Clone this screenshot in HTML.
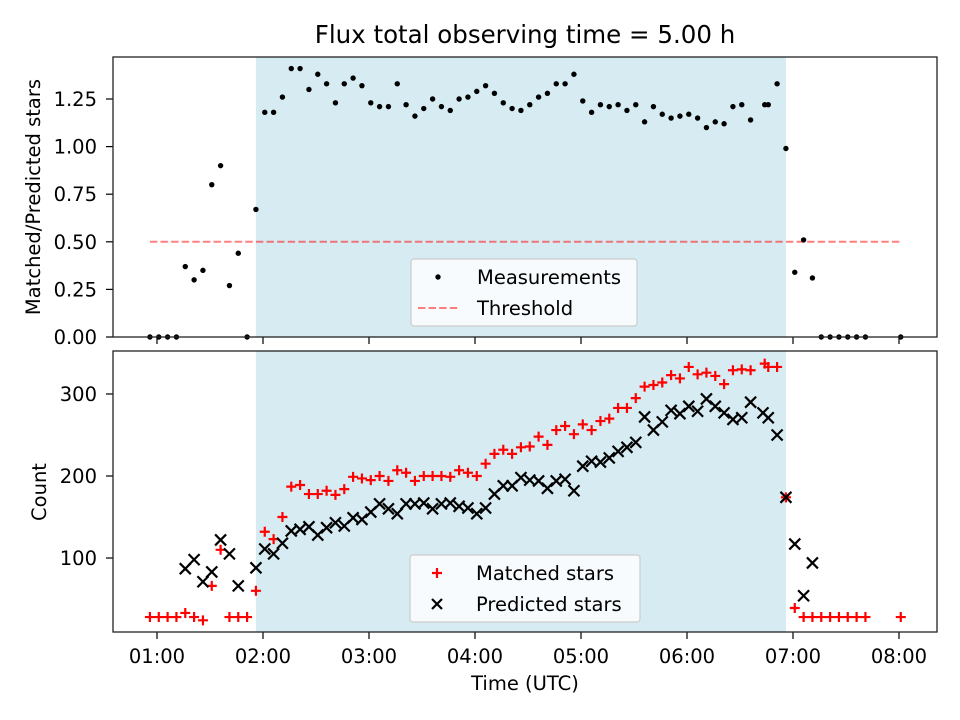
<!DOCTYPE html>
<html><head><meta charset="utf-8">
<style>
body{margin:0;background:#fff;}
svg{display:block;font-family:"DejaVu Sans","Liberation Sans",sans-serif;}
</style></head>
<body>
<svg id="chart" width="960" height="720" viewBox="0 0 960 720">
<rect x="0" y="0" width="960" height="720" fill="#fff"/>
<text x="525" y="43" font-size="24.5" text-anchor="middle">Flux total observing time = 5.00 h</text>
<g id="topPanel"></g>
<g id="botPanel"></g>
<text x="525" y="690" font-size="19.5" text-anchor="middle">Time (UTC)</text>
<text transform="translate(40,197) rotate(-90)" font-size="19.5" text-anchor="middle">Matched/Predicted stars</text>
<text transform="translate(46,492) rotate(-90)" font-size="19.5" text-anchor="middle">Count</text>
</svg>
<script>
// ---- data (times in minutes after 00:00 UTC) ----
const ratioTimes = [56,61,66,71,76,81,86,91,96,101,106,111,116,121,126,131,136,141,146,151,156,161,166,171,176,181,186,191,196,201,206,211,216,221,226,231,236,241,246,251,256,261,266,271,276,281,286,291,296,301,306,311,316,321,326,331,336,341,346,351,356,361,366,371,376,381,386,391,396,404,406,411,416,421,426,431,436,441,446,451,456,461,481];
const ratioValues = [0,0,0,0,0.37,0.30,0.35,0.80,0.90,0.27,0.44,0,0.67,1.18,1.18,1.26,1.41,1.41,1.30,1.38,1.33,1.23,1.33,1.36,1.32,1.23,1.21,1.21,1.33,1.22,1.16,1.20,1.25,1.21,1.19,1.25,1.26,1.29,1.32,1.28,1.23,1.20,1.19,1.22,1.26,1.28,1.33,1.33,1.38,1.24,1.18,1.22,1.21,1.22,1.19,1.22,1.13,1.21,1.17,1.15,1.16,1.17,1.15,1.10,1.13,1.12,1.21,1.22,1.14,1.22,1.22,1.33,0.99,0.34,0.51,0.31,0,0,0,0,0,0,0];
const matchedTimes = [56,61,66,71,76,81,86,91,96,101,106,111,116,121,126,131,136,141,146,151,156,161,166,171,176,181,186,191,196,201,206,211,216,221,226,231,236,241,246,251,256,261,266,271,276,281,286,291,296,301,306,311,316,321,326,331,336,341,346,351,356,361,366,371,376,381,386,391,396,404,406,411,416,421,426,431,436,441,446,451,456,461,481];
const matchedValues = [28,28,28,28,33,28,24,66,110,28,28,28,60,132,123,150,187,189,178,178,182,177,184,199,197,195,200,194,207,204,194,200,200,200,199,207,204,200,215,227,232,227,235,236,248,238,256,261,251,263,256,267,270,283,283,295,309,311,314,323,319,333,324,326,322,312,329,330,329,337,333,333,174,39,28,28,28,28,28,28,28,28,28];
const predictedTimes = [76,81,86,91,96,101,106,116,121,126,131,136,141,146,151,156,161,166,171,176,181,186,191,196,201,206,211,216,221,226,231,236,241,246,251,256,261,266,271,276,281,286,291,296,301,306,311,316,321,326,331,336,341,346,351,356,361,366,371,376,381,386,391,396,403,406,411,416,421,426,431];
const predictedValues = [87,98,71,83,122,105,66,88,111,105,118,133,135,138,128,137,143,139,149,147,156,166,160,154,166,166,167,160,166,167,163,161,154,161,178,188,188,198,195,194,185,194,196,182,212,218,217,222,230,235,241,272,256,266,280,276,285,279,294,285,277,269,271,290,277,271,250,174,117,54,94];
const xTickMinutes = [60,120,180,240,300,360,420,480];
const xTickLabels = ["01:00","02:00","03:00","04:00","05:00","06:00","07:00","08:00"];
const topTicks = [0,0.25,0.5,0.75,1.0,1.25];
const topTickLabels = ["0.00","0.25","0.50","0.75","1.00","1.25"];
const botTicks = [100,200,300];
const threshold = 0.5;
const thresholdSpan = [56,481];
const observingSpan = [116,416];

// ---- axes ----
const L=113,R=937,T1=57,B1=337,T2=351,B2=632;
const FS=19.5;
const xs = t => 157 + (t-60)*106/60;
const y1 = v => 337 - v*190.4;
const y2 = v => 558 - (v-100)*0.82;
const NS="http://www.w3.org/2000/svg";
function mk(tag,attrs,parent){const e=document.createElementNS(NS,tag);for(const k in attrs)e.setAttribute(k,attrs[k]);parent.appendChild(e);return e;}

function panel(g,T,B,ys,ticks,labels,prefix){
  const sh=mk('rect',{x:xs(observingSpan[0]),y:T,width:xs(observingSpan[1])-xs(observingSpan[0]),height:B-T,fill:'#add8e6','fill-opacity':0.5},g);
  
  
  ticks.forEach((v,i)=>{
    const y=ys(v);
    mk('line',{x1:L-7,x2:L,y1:y,y2:y,stroke:'#000','stroke-width':1.2},g);
    const t=mk('text',{x:L-16,y:y+7,'font-size':FS,'text-anchor':'end'},g);
    t.textContent=labels[i];
    
    
  });
  xTickMinutes.forEach(m=>{mk('line',{x1:xs(m),x2:xs(m),y1:B,y2:B+7,stroke:'#000','stroke-width':1.2},g);});
}
const topG=document.getElementById('topPanel'), botG=document.getElementById('botPanel');
panel(topG,T1,B1,y1,topTicks,topTickLabels,'top');
panel(botG,T2,B2,y2,botTicks,botTicks.map(String),'bottom');

xTickMinutes.forEach((m,i)=>{
  const t=mk('text',{x:xs(m),y:663,'font-size':FS,'text-anchor':'middle'},botG);
  t.textContent=xTickLabels[i];
  
  
});

// threshold
const th=mk('line',{x1:xs(thresholdSpan[0]),x2:xs(thresholdSpan[1]),y1:y1(threshold),y2:y1(threshold),stroke:'#ff0000','stroke-opacity':0.5,'stroke-width':2,'stroke-dasharray':'7.4,3.2'},topG);



// measurements
ratioTimes.forEach((t,i)=>{
  const c=mk('circle',{cx:xs(t),cy:y1(ratioValues[i]),r:2.7,fill:'#000'},topG);
  
  
});
// matched
matchedTimes.forEach((t,i)=>{
  const x=xs(t),y=y2(matchedValues[i]),s=5;
  const p=mk('path',{d:`M${x-s},${y}H${x+s}M${x},${y-s}V${y+s}`,stroke:'#ff0000','stroke-width':2.2},botG);
  
  
});
// predicted
predictedTimes.forEach((t,i)=>{
  const x=xs(t),y=y2(predictedValues[i]),s=5.5;
  const p=mk('path',{d:`M${x-s},${y-s}L${x+s},${y+s}M${x-s},${y+s}L${x+s},${y-s}`,stroke:'#000','stroke-width':2.2},botG);
  
  
});

// frames
[[T1,B1,topG],[T2,B2,botG]].forEach(([T,B,g])=>{
  const f=mk('rect',{x:L,y:T,width:R-L,height:B-T,fill:'none',stroke:'#222','stroke-width':1.3},g);
  
  
});

// legends
function legend(g,x,y,w,h,entries,name){
  const lg=mk('g',{},g);
  
  
  mk('rect',{x:x,y:y,width:w,height:h,rx:3,fill:'#fff','fill-opacity':0.8,stroke:'#ccc','stroke-width':1.2},lg);
  entries.forEach((e,i)=>{
    const yy=y+18+i*31;
    e.draw(lg,x+24,yy);
    const t=mk('text',{x:x+66,y:yy+7,'font-size':FS},lg);
    t.textContent=e.label;
    
    
  });
}
legend(topG,411,259,226,67,[
  {label:'Measurements',draw:(g,x,y)=>mk('circle',{cx:x+3,cy:y,r:2.7,fill:'#000'},g)},
  {label:'Threshold',draw:(g,x,y)=>mk('line',{x1:x-17,x2:x+25,y1:y,y2:y,stroke:'#ff0000','stroke-opacity':0.5,'stroke-width':2,'stroke-dasharray':'7.4,3.2'},g)}
],'top-legend');
legend(botG,410,555,230,67,[
  {label:'Matched stars',draw:(g,x,y)=>mk('path',{d:`M${x-2},${y}H${x+8}M${x+3},${y-5}V${y+5}`,stroke:'#ff0000','stroke-width':2.2},g)},
  {label:'Predicted stars',draw:(g,x,y)=>mk('path',{d:`M${x-2},${y-5}L${x+8},${y+5}M${x-2},${y+5}L${x+8},${y-5}`,stroke:'#000','stroke-width':2.2},g)}
],'bottom-legend');
</script>
</body></html>
